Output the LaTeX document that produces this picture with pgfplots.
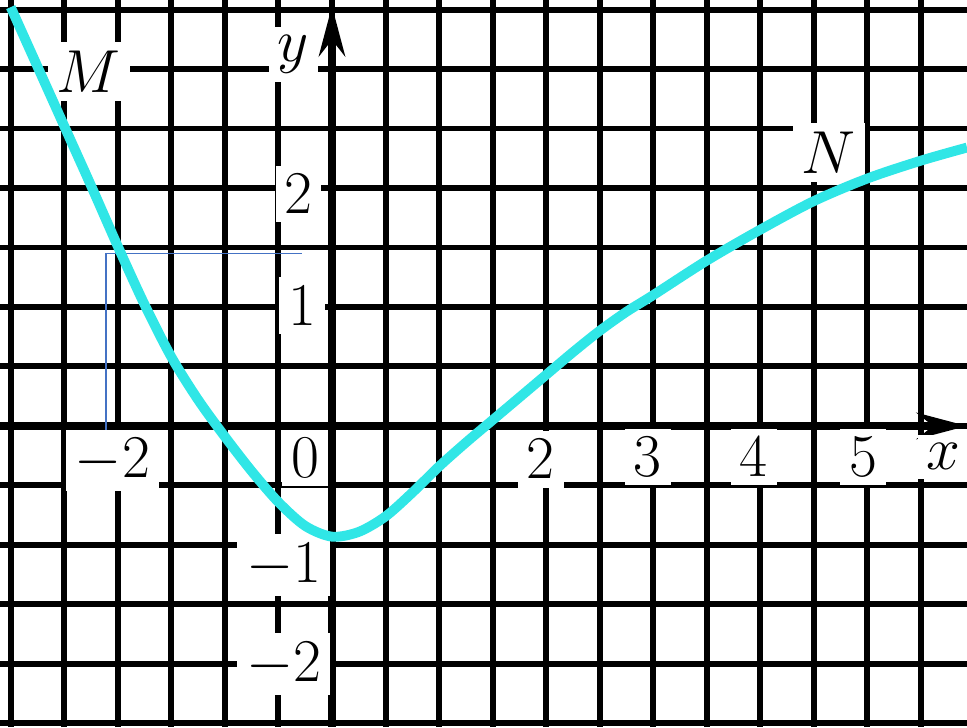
\documentclass[border=0pt]{standalone}
\usepackage{pgfplots}
\pgfplotsset{compat=1.18}
\usetikzlibrary{arrows.meta}
\definecolor{curvecyan}{HTML}{30E6E6}
\definecolor{guideblue}{HTML}{4472C4}
\tikzset{lbl/.style={fill=white, inner sep=2.5pt, font=\fontsize{16}{19}\selectfont}}

\begin{document}
\begin{tikzpicture}
\begin{axis}[
    width=9.67cm, height=7.27cm, scale only axis,
    xmin=-3.1, xmax=5.93, ymin=-2.53, ymax=3.58,
    axis line style={draw=none},
    major tick length=0pt,
    xtick={-3,-2.5,...,5.5}, ytick={-2.5,-2,...,3.5},
    xticklabels={}, yticklabels={},
    grid=major, grid style={black, line width=1.7pt},
    clip=false,
]
% axes
\addplot[black, line width=2.3pt, -{Stealth[length=5mm,width=2.6mm]}] coordinates {(-3.1,0)(5.93,0)};
\addplot[black, line width=2.3pt, -{Stealth[length=5mm,width=2.6mm]}] coordinates {(0,-2.53)(0,3.53)};
% thin guide lines
\addplot[guideblue, line width=0.5pt] coordinates {(-2.11,-0.05)(-2.11,1.45)(-0.28,1.45)};

% labels
\node[lbl] at (axis cs:-2.27,2.98) {$M$};
\node[lbl] at (axis cs:4.64,2.30) {$N$};
\node[lbl] at (axis cs:-0.36,3.12) {$y$};
\node[lbl] at (axis cs:5.71,-0.26) {$x$};
\node[lbl] at (axis cs:-2.05,-0.29) {$-2$};
\node[lbl] at (axis cs:-0.25,-0.27) {$0$};
\node[lbl] at (axis cs:1.95,-0.28) {$2$};
\node[lbl] at (axis cs:2.95,-0.26) {$3$};
\node[lbl] at (axis cs:3.94,-0.26) {$4$};
\node[lbl] at (axis cs:4.96,-0.26) {$5$};
\node[lbl] at (axis cs:-0.31,1.95) {$2$};
\node[lbl] at (axis cs:-0.28,1.01) {$1$};
\node[lbl] at (axis cs:-0.45,-1.17) {$-1$};
\node[lbl] at (axis cs:-0.45,-2.0) {$-2$};

% the curve
\addplot[curvecyan, line width=2.8pt, smooth] coordinates {
(-3.0,3.52) (-2.75,3.02) (-2.5,2.52) (-2.25,2.02) (-2.0,1.51) (-1.75,1.02)
(-1.5,0.58) (-1.25,0.22) (-1.0,-0.09) (-0.75,-0.38) (-0.5,-0.64) (-0.25,-0.84)
(0,-0.93) (0.25,-0.89) (0.5,-0.76) (0.75,-0.56) (1.0,-0.34) (1.25,-0.14)
(1.5,0.05) (1.75,0.24) (2.0,0.43) (2.25,0.62) (2.5,0.80) (2.75,0.96)
(3.0,1.10) (3.5,1.39) (4.0,1.65) (4.5,1.89) (5.0,2.08) (5.5,2.23) (5.93,2.34)};
\end{axis}
\pgfresetboundingbox
\path (current axis.south west) rectangle (current axis.north east);
\end{tikzpicture}
\end{document}
